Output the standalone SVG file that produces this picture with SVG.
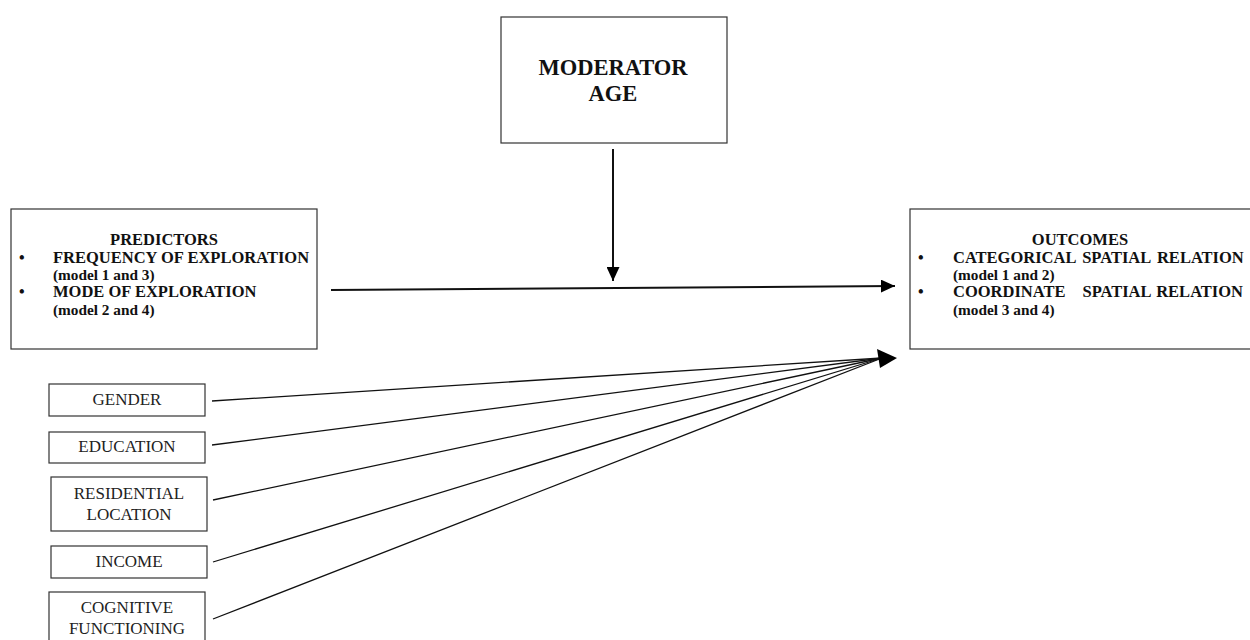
<svg xmlns="http://www.w3.org/2000/svg" width="1250" height="640" viewBox="0 0 1250 640">
<style>
.box{fill:#fff;stroke:#333;stroke-width:1.2}
.b{font-family:"Liberation Serif","Times New Roman",serif;font-weight:bold;fill:#111}
.r{font-family:"Liberation Serif","Times New Roman",serif;fill:#222;font-size:17px;text-anchor:middle}
.ln{stroke:#111;fill:none}
</style>
<defs>
<marker id="ah" markerWidth="14" markerHeight="13" refX="14" refY="6.5" orient="auto" markerUnits="userSpaceOnUse">
<path d="M0,0 L14,6.5 L0,13 Z" fill="#000"/>
</marker>
</defs>
<rect width="1250" height="640" fill="#fff"/>
<g id="moderator">
<rect class="box" x="501" y="17" width="226" height="126"/>
<text class="b" x="613" y="75" font-size="22.5" text-anchor="middle">MODERATOR</text>
<text class="b" x="613" y="101" font-size="22.5" text-anchor="middle">AGE</text>
</g>
<g id="predictors">
<rect class="box" x="11" y="209" width="306" height="140"/>
<text class="b" x="164" y="245" font-size="16.5" text-anchor="middle">PREDICTORS</text>
<text class="b" x="19" y="263" font-size="16">•</text>
<text class="b" x="53" y="263" font-size="16.5">FREQUENCY OF EXPLORATION</text>
<text class="b" x="53" y="280" font-size="15.3">(model 1 and 3)</text>
<text class="b" x="19" y="297" font-size="16">•</text>
<text class="b" x="53" y="297" font-size="16.5">MODE OF EXPLORATION</text>
<text class="b" x="53" y="315" font-size="15.3">(model 2 and 4)</text>
</g>
<g id="outcomes">
<rect class="box" x="910" y="209" width="345" height="140"/>
<text class="b" x="1080" y="245" font-size="16.5" text-anchor="middle">OUTCOMES</text>
<text class="b" x="918" y="263" font-size="16">•</text>
<text class="b" x="953" y="263" font-size="16.5" word-spacing="2.5">CATEGORICAL SPATIAL RELATION</text>
<text class="b" x="953" y="280" font-size="15.3">(model 1 and 2)</text>
<text class="b" x="918" y="297" font-size="16">•</text>
<text class="b" x="953" y="297" font-size="16.5">COORDINATE</text>
<text class="b" x="1117" y="297" font-size="16.5" text-anchor="middle">SPATIAL</text>
<text class="b" x="1243" y="297" font-size="16.5" text-anchor="end">RELATION</text>
<text class="b" x="953" y="315" font-size="15.3">(model 3 and 4)</text>
</g>
<g id="gender">
<rect class="box" x="49" y="384" width="156" height="32"/>
<text class="r" x="127" y="405">GENDER</text>
</g>
<g id="education">
<rect class="box" x="49" y="432" width="156" height="31"/>
<text class="r" x="127" y="452">EDUCATION</text>
</g>
<g id="residential">
<rect class="box" x="51" y="477" width="156" height="54"/>
<text class="r" x="129" y="499">RESIDENTIAL</text>
<text class="r" x="129" y="520">LOCATION</text>
</g>
<g id="income">
<rect class="box" x="51" y="546" width="156" height="32"/>
<text class="r" x="129" y="567">INCOME</text>
</g>
<g id="cognitive">
<rect class="box" x="49" y="592" width="156" height="60"/>
<text class="r" x="127" y="613">COGNITIVE</text>
<text class="r" x="127" y="634">FUNCTIONING</text>
</g>
<g id="connectors">
<line class="ln" x1="613" y1="149" x2="613" y2="281" stroke-width="2" marker-end="url(#ah)"/>
<line class="ln" x1="331" y1="290" x2="895" y2="286" stroke-width="2" marker-end="url(#ah)"/>
<line class="ln" x1="212" y1="401" x2="882" y2="358" stroke-width="1.3"/>
<line class="ln" x1="212" y1="445" x2="882" y2="358" stroke-width="1.3"/>
<line class="ln" x1="213" y1="500" x2="882" y2="358" stroke-width="1.3"/>
<line class="ln" x1="213" y1="562" x2="882" y2="358" stroke-width="1.3"/>
<line class="ln" x1="213" y1="619" x2="882" y2="358" stroke-width="1.3"/>
<polygon points="897,358 877,349 880,368" fill="#000"/>
</g>
</svg>
